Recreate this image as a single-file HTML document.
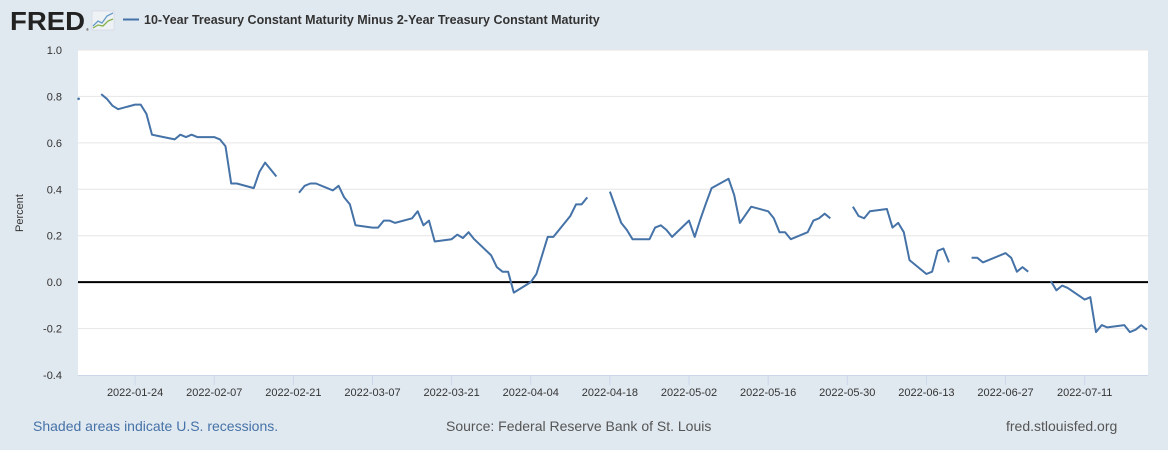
<!DOCTYPE html>
<html><head><meta charset="utf-8"><style>
html,body{margin:0;padding:0;background:#e1e9f0;}
body{width:1168px;height:450px;overflow:hidden;font-family:"Liberation Sans",Arial,sans-serif;}
</style></head><body>
<svg id="chart" width="1168" height="450" xmlns="http://www.w3.org/2000/svg" style="display:block">
<rect x="0" y="0" width="1168" height="450" fill="#e1e9f0"/>
<g>
<text x="10" y="30" font-family="Liberation Sans, sans-serif" font-weight="bold" font-size="26" fill="#222" textLength="75" lengthAdjust="spacingAndGlyphs">FRED</text>
<text x="86" y="31" font-size="4" fill="#222">®</text>
<rect x="92" y="11" width="22" height="19" fill="#eef2f5" stroke="#ccd" stroke-width="0.5"/>
<polyline points="93,26 98,21 102,23 107,16 113,13" fill="none" stroke="#6a9bc8" stroke-width="1.3"/>
<polyline points="93,28 98,25 103,26 108,21 113,19" fill="none" stroke="#86b04a" stroke-width="1.3"/>
</g>
<line x1="123" y1="19.5" x2="139" y2="19.5" stroke="#4572a7" stroke-width="2"/>
<text x="144" y="24" font-size="12.5" font-weight="bold" fill="#333">10-Year Treasury Constant Maturity Minus 2-Year Treasury Constant Maturity</text>
<rect x="78" y="50" width="1070" height="325" fill="#ffffff"/>
<g id="grid"></g>
<g id="yticks"></g>
<g id="xticks"></g>
<text transform="translate(23,213) rotate(-90)" text-anchor="middle" font-size="11" fill="#333">Percent</text>
<g id="series"></g>
<text x="33" y="431" font-size="14" fill="#4572a7">Shaded areas indicate U.S. recessions.</text>
<text x="446" y="431" font-size="14" fill="#555">Source: Federal Reserve Bank of St. Louis</text>
<text x="1006" y="431" font-size="14" fill="#555">fred.stlouisfed.org</text>
</svg>
<script>
// days since 2022-01-14 (null value = gap)
const days = [0,1,4,5,6,7,10,11,12,13,14,17,18,19,20,21,24,25,26,27,28,31,32,33,35,36,
39,40,41,42,45,46,47,48,49,52,53,54,55,56,59,60,61,62,63,66,67,68,69,70,73,74,75,76,77,80,81,83,84,87,88,89,90,91,
94,96,97,98,101,102,103,104,105,108,109,110,111,112,115,116,117,119,122,123,124,125,126,129,130,131,132,133,134,
137,138,139,140,143,144,145,146,147,150,151,152,153,154,155,
158,159,160,164,165,166,167,168,169,
172,173,174,175,178,179,180,181,182,185,186,187,188,189];
const values = [0.79,null,0.81,0.79,0.76,0.745,0.765,0.765,0.725,0.635,0.63,0.615,0.635,0.625,0.635,0.625,0.625,0.615,0.585,0.425,0.425,0.405,0.475,0.515,0.455,null,
0.385,0.415,0.425,0.425,0.395,0.415,0.365,0.335,0.245,0.235,0.235,0.265,0.265,0.255,0.275,0.305,0.245,0.265,0.175,0.185,0.205,0.19,0.215,0.185,0.115,0.065,0.045,0.045,-0.045,0.0,0.035,0.195,0.195,0.285,0.335,0.335,0.365,null,
0.39,0.255,0.225,0.185,0.185,0.235,0.245,0.225,0.195,0.265,0.195,0.27,0.34,0.405,0.445,0.375,0.255,0.325,0.305,0.275,0.215,0.215,0.185,0.215,0.265,0.275,0.295,0.275,null,
0.325,0.285,0.275,0.305,0.315,0.235,0.255,0.215,0.095,0.035,0.045,0.135,0.145,0.085,null,
0.105,0.105,0.085,0.125,0.105,0.045,0.065,0.045,null,
0.005,-0.035,-0.015,-0.025,-0.075,-0.065,-0.215,-0.185,-0.195,-0.185,-0.215,-0.205,-0.185,-0.205];
const yTickValues = [1.0,0.8,0.6,0.4,0.2,0.0,-0.2,-0.4];
const yTickLabels = ["1.0","0.8","0.6","0.4","0.2","0.0","-0.2","-0.4"];
const xTickDays = [10,24,38,52,66,80,94,108,122,136,150,164,178];
const xTickLabels = ["2022-01-24","2022-02-07","2022-02-21","2022-03-07","2022-03-21","2022-04-04","2022-04-18","2022-05-02","2022-05-16","2022-05-30","2022-06-13","2022-06-27","2022-07-11"];

const NS="http://www.w3.org/2000/svg";
const X0=78,X1=1148,Y0=50,Y1=375;
const dMin=-0.1,dMax=189.2,vMin=-0.4,vMax=1.0;
function xs(d){return X0+(d-dMin)/(dMax-dMin)*(X1-X0);}
function ys(v){return Y1-(v-vMin)/(vMax-vMin)*(Y1-Y0);}
function mk(tag,attrs,parent){const e=document.createElementNS(NS,tag);for(const k in attrs)e.setAttribute(k,attrs[k]);parent.appendChild(e);return e;}
const grid=document.getElementById('grid'),yt=document.getElementById('yticks'),xt=document.getElementById('xticks'),ser=document.getElementById('series');
yTickValues.forEach((v,i)=>{
  if(v!==0&&v!==vMin){const g=mk('line',{x1:X0,x2:X1,y1:ys(v),y2:ys(v),stroke:'#e6e6e6','stroke-width':1},grid);
  
  }
  const t=mk('text',{x:62,y:ys(v)+4,'text-anchor':'end','font-size':11,fill:'#333'},yt);
  t.textContent=yTickLabels[i];
  
  
});
mk('line',{x1:X0,x2:X1,y1:Y1+0.5,y2:Y1+0.5,stroke:'#ccd6eb','stroke-width':1},xt);
xTickDays.forEach((d,i)=>{
  const x=xs(d);
  const l=mk('line',{x1:x,x2:x,y1:Y1,y2:Y1+10,stroke:'#ccd6eb','stroke-width':1},xt);
  
  
  const t=mk('text',{x:x,y:396,'text-anchor':'middle','font-size':11,fill:'#333'},xt);
  t.textContent=xTickLabels[i];
  
  
});
const zl=mk('line',{x1:X0,x2:X1,y1:ys(0),y2:ys(0),stroke:'#000','stroke-width':2},grid);


let seg=[];
function flush(){
  if(seg.length===1){const c=mk('circle',{cx:seg[0][0],cy:seg[0][1],r:1.3,fill:'#4572a7'},ser);
    
    }
  else if(seg.length>1){const p=mk('polyline',{points:seg.map(s=>s.join(',')).join(' '),fill:'none',stroke:'#4572a7','stroke-width':2,'stroke-linejoin':'round'},ser);
    
    }
  seg=[];
}
days.forEach((d,i)=>{const v=values[i];if(v===null){flush();}else seg.push([xs(d).toFixed(1),ys(v).toFixed(1)]);});
flush();
</script>
</body></html>
